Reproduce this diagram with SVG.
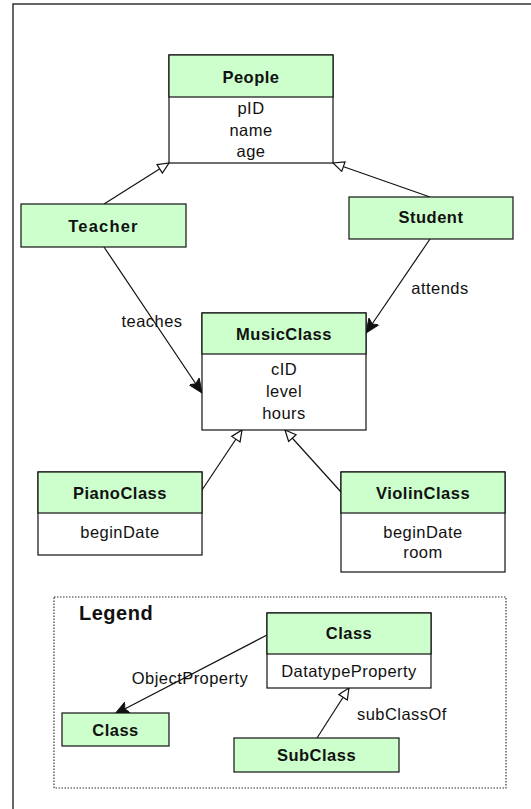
<svg xmlns="http://www.w3.org/2000/svg" width="531" height="809" viewBox="0 0 531 809">
  <defs>
    <style>
      .box { fill: #ffffff; stroke: #111; stroke-width: 1.2; }
      .head { fill: #ccffcc; stroke: #111; stroke-width: 1.2; }
      .title { font-family: "Liberation Sans", Arial, sans-serif; font-size: 16.5px; font-weight: bold; letter-spacing: 0.5px; text-anchor: middle; fill: #111; }
      .attr { font-family: "Liberation Sans", Arial, sans-serif; font-size: 16.5px; letter-spacing: 0.45px; text-anchor: middle; fill: #111; }
      .lbl { font-family: "Liberation Sans", Arial, sans-serif; font-size: 16.5px; letter-spacing: 0.45px; fill: #111; }
      .edge { stroke: #111; stroke-width: 1.2; fill: none; }
      .isa { marker-end: url(#hollow); }
      .rel { marker-end: url(#filled); }
    </style>
    <marker id="hollow" markerUnits="userSpaceOnUse" markerWidth="14" markerHeight="12" refX="12" refY="6" orient="auto" viewBox="0 0 14 12">
      <path d="M1,1 L12,6 L1,11 Z" fill="#ffffff" stroke="#111" stroke-width="1.2"/>
    </marker>
    <marker id="filled" markerUnits="userSpaceOnUse" markerWidth="16" markerHeight="14" refX="14" refY="7" orient="auto" viewBox="0 0 16 14">
      <path d="M0,1 L14,7 L0,13 L3,7 Z" fill="#111" stroke="#111" stroke-width="1"/>
    </marker>
  </defs>

  <rect width="531" height="809" fill="#ffffff"/>
  <!-- page frame -->
  <rect x="13" y="4" width="700" height="900" fill="none" stroke="#333" stroke-width="1.5"/>

  <!-- legend frame -->
  <rect id="legend-frame" x="54" y="597" width="452" height="191" fill="none" stroke="#333" stroke-width="1.2" stroke-dasharray="1.5 1.5"/>
  <text class="lbl" x="79" y="620" style="font-size:20px;font-weight:bold;letter-spacing:0.5px">Legend</text>

  <g id="connectors">
    <line class="edge isa" x1="104" y1="204" x2="169" y2="163"/>
    <line class="edge isa" x1="430" y1="197" x2="333" y2="163"/>
    <line class="edge rel" x1="104" y1="247" x2="202" y2="393"/>
    <line class="edge rel" x1="430" y1="239" x2="366" y2="333"/>
    <line class="edge isa" x1="202" y1="490" x2="242" y2="430"/>
    <line class="edge isa" x1="341" y1="492" x2="285" y2="430"/>
    <line class="edge rel" x1="267" y1="635" x2="115" y2="714"/>
    <line class="edge isa" x1="317" y1="738" x2="349" y2="688"/>
    <text class="lbl" x="152" y="327" text-anchor="middle">teaches</text>
    <text class="lbl" x="440" y="294" text-anchor="middle">attends</text>
    <text class="lbl" x="190" y="684" text-anchor="middle">ObjectProperty</text>
    <text class="lbl" x="357" y="720">subClassOf</text>
  </g>

  <g id="people">
    <rect class="box" x="169" y="55" width="164" height="108"/>
    <rect class="head" x="169" y="55" width="164" height="42"/>
    <text class="title" x="251" y="82.5">People</text>
    <text class="attr" x="251" y="113.5">pID</text>
    <text class="attr" x="251" y="135.5">name</text>
    <text class="attr" x="251" y="157">age</text>
  </g>

  <g id="teacher">
    <rect class="head" x="21" y="204" width="165" height="43"/>
    <text class="title" x="103.5" y="231.5" style="letter-spacing:1.2px">Teacher</text>
  </g>

  <g id="student">
    <rect class="head" x="349" y="197" width="164" height="42"/>
    <text class="title" x="431" y="222.5">Student</text>
  </g>

  <g id="musicclass">
    <rect class="box" x="202" y="313" width="164" height="117"/>
    <rect class="head" x="202" y="313" width="164" height="41"/>
    <text class="title" x="284" y="340">MusicClass</text>
    <text class="attr" x="284" y="375">cID</text>
    <text class="attr" x="284" y="397">level</text>
    <text class="attr" x="284" y="419">hours</text>
  </g>

  <g id="pianoclass">
    <rect class="box" x="38" y="472" width="164" height="83"/>
    <rect class="head" x="38" y="472" width="164" height="41"/>
    <text class="title" x="120" y="498.5">PianoClass</text>
    <text class="attr" x="120" y="538">beginDate</text>
  </g>

  <g id="violinclass">
    <rect class="box" x="341" y="472" width="164" height="100"/>
    <rect class="head" x="341" y="472" width="164" height="41"/>
    <text class="title" x="423" y="498.5">ViolinClass</text>
    <text class="attr" x="423" y="537.5">beginDate</text>
    <text class="attr" x="423" y="558">room</text>
  </g>

  <g id="legend-class">
    <rect class="box" x="267" y="613" width="164" height="75"/>
    <rect class="head" x="267" y="613" width="164" height="41"/>
    <text class="title" x="349" y="638.5">Class</text>
    <text class="attr" x="349" y="677">DatatypeProperty</text>
  </g>

  <g id="legend-target">
    <rect class="head" x="62" y="713" width="107" height="33"/>
    <text class="title" x="115.5" y="735.5">Class</text>
  </g>

  <g id="legend-subclass">
    <rect class="head" x="234" y="738" width="165" height="34"/>
    <text class="title" x="316.5" y="760.5">SubClass</text>
  </g>
</svg>
